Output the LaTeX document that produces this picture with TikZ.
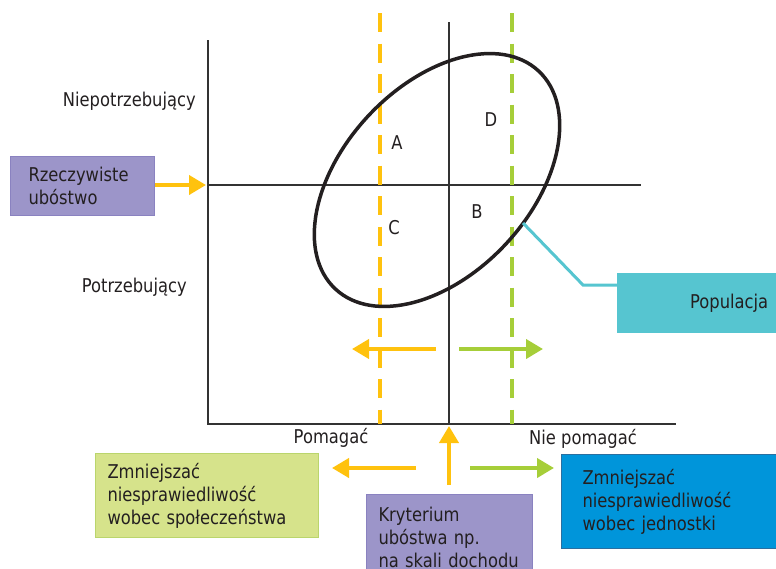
\documentclass[tikz,border=0pt]{standalone}
\usepackage{fontspec}
\setmainfont{DejaVu Sans}[FakeStretch=0.86]
\usetikzlibrary{arrows.meta}
\definecolor{cyellow}{HTML}{FFC20E}
\definecolor{cgreen}{HTML}{A6CE39}
\definecolor{cpurple}{HTML}{9C95C9}
\definecolor{cpurpleb}{HTML}{8A82C0}
\definecolor{cteal}{HTML}{56C5D0}
\definecolor{cblue}{HTML}{0095DA}
\definecolor{cblueb}{HTML}{2A6FA0}
\definecolor{clime}{HTML}{D6E38B}
\definecolor{climeb}{HTML}{BAD56C}
\definecolor{caxis}{HTML}{333333}
\definecolor{ctext}{HTML}{231F20}
\begin{document}
\begin{tikzpicture}[x=1pt,y=-1pt,
  lbl/.style={font=\fontsize{19}{23}\selectfont, text=ctext, inner sep=0pt},
  boxnode/.style={lbl, anchor=north west, align=left, inner ysep=0pt},
  axisline/.style={draw=caxis, line width=1.3pt},
  dashy/.style={draw=cyellow, line width=3.2pt, dash pattern=on 19pt off 11.5pt},
  dashg/.style={draw=cgreen, line width=3.2pt, dash pattern=on 19pt off 11.5pt},
  yarrow/.style={draw=cyellow, line width=4pt, -{Triangle[length=17pt,width=19pt]}},
  garrow/.style={draw=cgreen, line width=4pt, -{Triangle[length=17pt,width=19pt]}},
]
\useasboundingbox (0,0) rectangle (776,568);

% axes
\coordinate (vtop) at (208,40);
\coordinate (origin) at (208,424);
\coordinate (hend) at (676,424);
\coordinate (mleft) at (208,185);
\coordinate (mright) at (641,185);
\coordinate (ctop) at (449,22);
\coordinate (cbot) at (449,424);
\draw[axisline] (vtop) -- (origin) -- (hend);
\draw[axisline] (mleft) -- (mright);
\draw[axisline] (ctop) -- (cbot);

% dashed thresholds
\coordinate (ytop) at (380,13);
\coordinate (ybot) at (380,424);
\coordinate (gtop) at (512,13);
\coordinate (gbot) at (512,424);
\draw[dashy] (ytop) -- (ybot);
\draw[dashg] (gtop) -- (gbot);

% population ellipse
\coordinate (ec) at (437,180);
\draw[ctext, line width=3.5pt] (ec) ellipse [x radius=149pt, y radius=94pt, rotate=47];

% quadrant labels
\node[lbl] (qa) at (397,143) {A};
\node[lbl] (qd) at (491,120) {D};
\node[lbl] (qc) at (394,228) {C};
\node[lbl] (qb) at (477,212) {B};

% axis labels
\node[lbl, anchor=east] (niep) at (196,101) {Niepotrzebujący};
\node[lbl, anchor=east] (potr) at (187,287) {Potrzebujący};
\node[lbl] (pom) at (331,438) {Pomagać};
\node[lbl] (niepom) at (583,439) {Nie pomagać};

% Rzeczywiste ubostwo
\node[boxnode, fill=cpurple, draw=cpurpleb, line width=1pt, minimum width=144pt, minimum height=59pt, text width=108pt, inner xsep=18pt] (rz) at (10,156) {Rzeczywiste\\ubóstwo};
\coordinate (rzt) at (206,185);
\draw[yarrow] (rz.east |- rzt) -- (rzt);

% arrows in plot
\coordinate (pa1) at (436,349);
\coordinate (pa2) at (352,349);
\coordinate (pb1) at (459,349);
\coordinate (pb2) at (543,349);
\draw[yarrow] (pa1) -- (pa2);
\draw[garrow] (pb1) -- (pb2);

% Populacja
\node[lbl, anchor=north west, fill=cteal, minimum width=173pt, minimum height=60pt, text width=129pt, inner xsep=22pt, align=right] (pop) at (617,273) {Populacja};
\coordinate (pstart) at (523,223);
\coordinate (pbend) at (583,285);
\draw[cteal, line width=3pt] (pstart) -- (pbend) -- (pbend -| pop.west);

% bottom boxes
\node[boxnode, fill=clime, draw=climeb, line width=1pt, minimum width=223pt, minimum height=84pt, text width=199pt, inner xsep=12pt] (spol) at (95,453) {Zmniejszać\\niesprawiedliwość\\wobec społeczeństwa};
\node[boxnode, fill=cblue, draw=cblueb, line width=1pt, minimum width=229pt, minimum height=94pt, text width=187pt, inner xsep=21pt] (jedn) at (561,454) {Zmniejszać\\niesprawiedliwość\\wobec jednostki};
\node[boxnode, fill=cpurple, draw=cpurpleb, line width=1pt, minimum width=166pt, minimum height=86pt, text width=142pt, inner xsep=12pt] (kryt) at (366,494) {Kryterium\\ubóstwa np.\\na skali dochodu};

% bottom arrows
\coordinate (up1) at (449,485);
\coordinate (up2) at (449,426);
\coordinate (l1) at (416,468);
\coordinate (l2) at (332,468);
\coordinate (r1) at (470,468);
\coordinate (r2) at (554,468);
\draw[yarrow] (up1) -- (up2);
\draw[yarrow] (l1) -- (l2);
\draw[garrow] (r1) -- (r2);
\end{tikzpicture}
\end{document}
